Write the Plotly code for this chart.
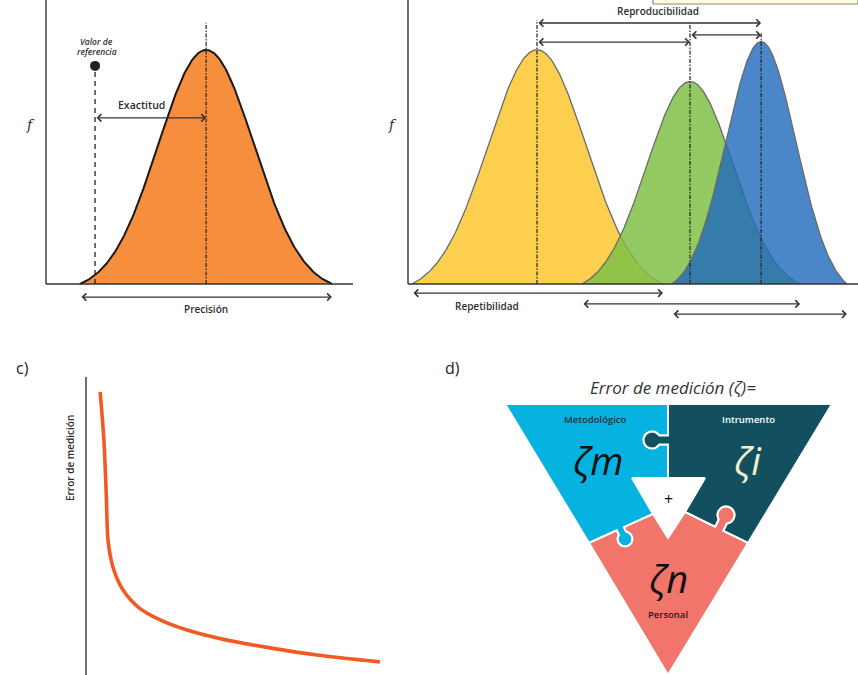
import numpy as np
import plotly.graph_objects as go

W, H = 858, 675

# ---------------- Panel a data (x: arbitrary units, f: relative frequency) ----------------
a_mean, a_sigma, a_peak = 5.32, 1.595, 0.824
a_lo, a_hi = 1.13, 9.50
a_ref_x, a_ref_f = 1.63, 0.768
a_ref_line_top = 0.75
a_peak_line_top = 0.92
a_exact_f = 0.585
a_prec_f = -0.046

# ---------------- Panel b data ----------------
b_names = ["Lab 1", "Lab 2", "Lab 3"]
b_means = [4.30, 9.40, 11.77]
b_sigmas = [1.633, 1.433, 1.167]
b_peaks = [0.824, 0.711, 0.849]
b_lo = [0.133, 5.80, 8.80]
b_hi = [8.50, 13.07, 14.63]
b_line_tops = [0.93, 0.92, 0.887]
b_fill = ["rgba(253,207,79,1)", "rgba(127,192,70,0.85)", "rgba(34,107,188,0.82)"]
b_rep_levels = [-0.032, -0.070, -0.106]          # repetibilidad arrows
b_repro_pairs = [(0, 2, 0.919), (1, 2, 0.877), (0, 1, 0.852)]  # reproducibilidad arrows

# ---------------- Panel c data (Error de medición curve) ----------------
c_x = [0.45, 0.57, 0.64, 0.70, 0.80, 0.92, 1.18, 1.66, 2.36, 3.22, 4.49, 5.86, 7.36, 9.36]
c_y = [9.50, 7.89, 6.21, 4.53, 3.86, 3.42, 2.85, 2.28, 1.85, 1.51, 1.17, 0.91, 0.67, 0.44]

# ---------------- Panel d data (puzzle geometry, panel pixel units) ----------------
tri_A, tri_B, tri_C = (505, 404), (832, 404), (668, 675)
mid_top, mid_low = (668, 404), (668, 478)
hole_P, hole_Q, hole_R = (632, 478), (705, 478), (668, 538)
cut_S1, cut_L, cut_S2, cut_R2 = (653, 514), (589, 543), (685, 512), (748, 543)
knob_dark = ((652, 440), 8.5, 4.5)
knob_cyan = ((625, 539), 7.5, 4.0)
knob_pink = ((726, 515), 8.5, 4.5)
col_cyan, col_dark, col_pink = "#06B3E0", "#13505F", "#F1756B"

FONT = "Open Sans"
TXT = "#2e2e2e"

# ---------------- helpers ----------------
def dom_x(px0, ppu, r):
    return [max(0, (px0 + r[0] * ppu) / W), min(1, (px0 + r[1] * ppu) / W)]

def dom_y(row0, ppu, r):
    return [max(0, 1 - (row0 - r[0] * ppu) / H), min(1, 1 - (row0 - r[1] * ppu) / H)]

def gauss(mean, sigma, peak, lo, hi, n=240):
    x = np.linspace(lo, hi, n)
    g = np.exp(-0.5 * ((x - mean) / sigma) ** 2)
    g_lo = np.exp(-0.5 * ((lo - mean) / sigma) ** 2)
    g_hi = np.exp(-0.5 * ((hi - mean) / sigma) ** 2)
    base = g_lo + (g_hi - g_lo) * (x - lo) / (hi - lo)   # taper tails to the baseline
    y = peak * np.clip(g - base, 0, None) / (1 - base.max())
    return x, y

def knob_edge(p0, p1, knob, n=48):
    (c, r, w) = knob
    p0, p1, c = np.array(p0, float), np.array(p1, float), np.array(c, float)
    u = (p1 - p0) / np.linalg.norm(p1 - p0)
    t = np.dot(c - p0, u)
    foot = p0 + t * u
    nv = c - foot
    d = np.linalg.norm(nv)
    nv = nv / d
    h = np.sqrt(r * r - w * w)
    pts = [p0, foot - w * u]
    phi = np.linspace(np.arctan2(-h, -w), np.arctan2(-h, w) - 2 * np.pi, n)
    for f in phi:
        lx, ly = r * np.cos(f), d + r * np.sin(f)
        pts.append(foot + lx * u + ly * nv)
    pts += [foot + w * u, p1]
    return [tuple(p) for p in pts]

fig = go.Figure()

# ---------------- axes layout ----------------
a_rx, a_ry = [-0.7, 10.2], [-0.125, 1.0]
b_rx, b_ry = [-0.7, 15.0], [-0.125, 1.0]
c_rx, c_ry = [-0.7, 10.0], [0, 10.1]
d_rx, d_ry = [480, 858], [675, 372]

ax_common = dict(visible=False, fixedrange=True)
fig.update_layout(
    xaxis=dict(domain=dom_x(46, 30.1, a_rx), range=a_rx, anchor="y", **ax_common),
    yaxis=dict(domain=dom_y(284, 284, a_ry), range=a_ry, anchor="x", **ax_common),
    xaxis2=dict(domain=dom_x(408, 30.0, b_rx), range=b_rx, anchor="y2", **ax_common),
    yaxis2=dict(domain=dom_y(284, 284, b_ry), range=b_ry, anchor="x2", **ax_common),
    xaxis3=dict(domain=dom_x(86, 31.4, c_rx), range=c_rx, anchor="y3", **ax_common),
    yaxis3=dict(domain=dom_y(675, 29.8, c_ry), range=c_ry, anchor="x3", **ax_common),
    xaxis4=dict(domain=[480 / W, 1], range=d_rx, anchor="y4", **ax_common),
    yaxis4=dict(domain=[0, 1 - 372 / H], range=d_ry, anchor="x4", **ax_common),
)

def line(x, y, xa, ya, color="#222", width=1.4, dash=None):
    fig.add_trace(go.Scatter(x=x, y=y, xaxis=xa, yaxis=ya, mode="lines",
                             line=dict(color=color, width=width, dash=dash),
                             hoverinfo="skip", showlegend=False))

annotations = []

def text(x, y, s, xref, yref, size=10.5, color=TXT, weight=600, angle=0, family=FONT):
    annotations.append(dict(x=x, y=y, xref=xref, yref=yref, text=s, showarrow=False,
                            textangle=angle,
                            font=dict(family=family, size=size, color=color, weight=weight)))

def arrow(x0, x1, y, xref, yref):
    annotations.append(dict(x=x1, y=y, ax=x0, ay=y, xref=xref, yref=yref, axref=xref, ayref=yref,
                            text="", showarrow=True, arrowhead=4, startarrowhead=4,
                            arrowside="end+start", arrowsize=1.1, startarrowsize=1.1,
                            arrowwidth=1.3, arrowcolor="#333", standoff=0, startstandoff=0))

# ---------------- Panel a ----------------
gx, gy = gauss(a_mean, a_sigma, a_peak, a_lo, a_hi)
fig.add_trace(go.Scatter(x=gx, y=gy, xaxis="x", yaxis="y", mode="lines", fill="tozeroy",
                         fillcolor="#F68E3E", line=dict(color="#1a1a1a", width=2),
                         hoverinfo="skip", showlegend=False))
line([0, 0], [0, 1.0], "x", "y", "#333", 1.4)
line([0, 10.2], [0, 0], "x", "y", "#333", 1.4)
line([a_ref_x, a_ref_x], [0, a_ref_line_top], "x", "y", "#222", 1.3, "5px,4px")
line([a_mean, a_mean], [0, a_peak_line_top], "x", "y", "#222", 1.2, "4px,1.5px,1.5px,1.5px")
fig.add_trace(go.Scatter(x=[a_ref_x], y=[a_ref_f], xaxis="x", yaxis="y", mode="markers",
                         marker=dict(color="#222", size=10), hoverinfo="skip", showlegend=False))
arrow(a_ref_x, a_mean, a_exact_f, "x", "y")
arrow(a_lo, a_hi, a_prec_f, "x", "y")
text((a_ref_x + a_mean) / 2 - 0.3, a_exact_f + 0.045, "Exactitud", "x", "y", size=10.5)
text((a_lo + a_hi) / 2, -0.088, "Precisión", "x", "y", size=10)
text(a_ref_x + 0.05, 0.855, "<i>Valor de</i>", "x", "y", size=8.5, weight=600)
text(a_ref_x + 0.05, 0.818, "<i>referencia</i>", "x", "y", size=8.5, weight=600)
text(-0.53, 0.56, "<i>f</i>", "x", "y", size=14, weight=400, family="DejaVu Serif")

# ---------------- Panel b ----------------
for i in range(3):
    gx, gy = gauss(b_means[i], b_sigmas[i], b_peaks[i], b_lo[i], b_hi[i])
    fig.add_trace(go.Scatter(x=gx, y=gy, xaxis="x2", yaxis="y2", mode="lines", fill="tozeroy",
                             fillcolor=b_fill[i], line=dict(color="#6a6a6a", width=1.3),
                             name=b_names[i], hoverinfo="skip", showlegend=False))
for i in range(3):
    line([b_means[i], b_means[i]], [0, b_line_tops[i]], "x2", "y2", "#222", 1.2,
         "4px,1.5px,1.5px,1.5px")
line([0, 0], [0, 1.0], "x2", "y2", "#333", 1.4)
line([0, 15.0], [0, 0], "x2", "y2", "#333", 1.4)
for i in range(3):
    arrow(b_lo[i], b_hi[i], b_rep_levels[i], "x2", "y2")
for (i, j, lev) in b_repro_pairs:
    arrow(b_means[i], b_means[j], lev, "x2", "y2")
text(8.33, 0.962, "Reproducibilidad", "x2", "y2", size=10)
text(2.63, -0.077, "Repetibilidad", "x2", "y2", size=10)
text(-0.53, 0.56, "<i>f</i>", "x2", "y2", size=14, weight=400, family="DejaVu Serif")

# ---------------- Panel c ----------------
line([0, 0], [0, 10.0], "x3", "y3", "#333", 1.4)
fig.add_trace(go.Scatter(x=c_x, y=c_y, xaxis="x3", yaxis="y3", mode="lines",
                         line=dict(color="#F25A24", width=3.6, shape="spline", smoothing=0.8),
                         hoverinfo="skip", showlegend=False))
text(-0.51, 7.28, "Error de medición", "x3", "y3", size=10, weight=600, angle=-90)

# ---------------- Panel d ----------------
cyan = [tri_A, mid_top] + knob_edge(mid_top, mid_low, knob_dark)[1:] + [hole_P, cut_S1] \
       + knob_edge(cut_S1, cut_L, knob_cyan)[1:]
dark = [mid_top, tri_B, cut_R2] + knob_edge(cut_S2, cut_R2, knob_pink)[::-1][1:] \
       + [hole_Q, mid_low] + knob_edge(mid_top, mid_low, knob_dark)[::-1][1:]
pink = [cut_L] + knob_edge(cut_S1, cut_L, knob_cyan)[::-1][1:] + [hole_R] \
       + knob_edge(cut_S2, cut_R2, knob_pink) + [tri_C]
for poly, col in [(cyan, col_cyan), (dark, col_dark), (pink, col_pink)]:
    xs = [p[0] for p in poly] + [poly[0][0]]
    ys = [p[1] for p in poly] + [poly[0][1]]
    fig.add_trace(go.Scatter(x=xs, y=ys, xaxis="x4", yaxis="y4", mode="lines", fill="toself",
                             fillcolor=col, line=dict(color="white", width=2),
                             hoverinfo="skip", showlegend=False))

text(673, 387, "<i>Error de medición (ζ)=</i>", "x4", "y4", size=17, weight=400, color="#333")
text(595, 419, "Metodológico", "x4", "y4", size=9.5, weight=600, color="#1b2f3c")
text(748, 419, "Intrumento", "x4", "y4", size=9.5, weight=600, color="white")
text(598, 460, "<i>ζm</i>", "x4", "y4", size=38, weight=400, color="#111")
text(748, 460, "<i>ζi</i>", "x4", "y4", size=38, weight=400, color="#F3EECB")
text(668, 499, "+", "x4", "y4", size=16, weight=500, color="#111")
text(668, 578, "<i>ζn</i>", "x4", "y4", size=38, weight=400, color="#111")
text(668, 614, "Personal", "x4", "y4", size=9.5, weight=600, color="#1b1b1b")

# panel letters
annotations.append(dict(x=14 / W, y=1 - 368 / H, xref="paper", yref="paper", text="c)",
                        showarrow=False, font=dict(family=FONT, size=16, color="#222")))
annotations.append(dict(x=452 / W, y=1 - 368 / H, xref="paper", yref="paper", text="d)",
                        showarrow=False, font=dict(family=FONT, size=16, color="#222")))

shapes = [dict(type="rect", xref="paper", yref="paper", x0=653 / W, x1=1.0,
               y0=1 - 4 / H, y1=1.02, fillcolor="#FFFCDD", line=dict(color="#8a8a8a", width=1.2))]

fig.update_layout(width=W, height=H, margin=dict(l=0, r=0, t=0, b=0),
                  paper_bgcolor="white", plot_bgcolor="white",
                  annotations=annotations, shapes=shapes, showlegend=False)

fig.write_html("out.html", config={"displayModeBar": False},
               post_script="document.body.style.margin='0';")
